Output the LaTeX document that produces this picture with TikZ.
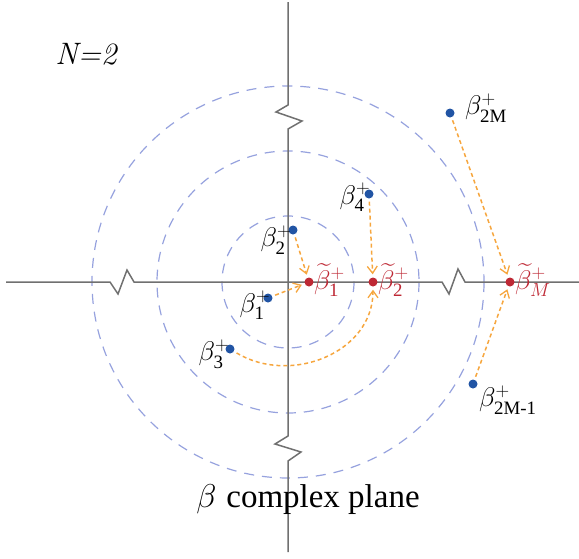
\RequirePackage{fix-cm}
\documentclass[tikz,border=0pt]{standalone}
\usepackage{amsmath}
\usepackage{fontspec}
\newfontfamily\timesf{Liberation Serif}
\usetikzlibrary{arrows.meta}
\definecolor{axisgray}{RGB}{112,112,112}
\definecolor{ringblue}{RGB}{150,162,222}
\definecolor{dotblue}{RGB}{33,84,164}
\definecolor{dotred}{RGB}{190,40,52}
\definecolor{arroworange}{RGB}{246,166,62}
\newcommand{\tsub}[1]{\text{\timesf #1}}
\tikzset{
  axisline/.style={draw=axisgray, line width=1.5pt, line join=miter},
  ring/.style={draw=ringblue, line width=1.2pt, dash pattern=on 10pt off 8pt},
  bdot/.style={circle, fill=dotblue, inner sep=0pt, minimum size=9pt},
  rdot/.style={circle, fill=dotred, inner sep=0pt, minimum size=9pt},
  moveto/.style={draw=arroworange, line width=1.5pt, dash pattern=on 4pt off 3pt,
    -{Straight Barb[length=7pt,width=10pt,line width=1.3pt]}, shorten >=3pt, shorten <=3pt},
  blab/.style={font=\fontsize{27}{29}\selectfont, inner sep=0pt},
  rlab/.style={font=\fontsize{27}{29}\selectfont, inner sep=0pt, text=dotred},
}
\begin{document}
\begin{tikzpicture}[x=1pt,y=-1pt]
\useasboundingbox (0,0) rectangle (579,558);
% rings
\coordinate (O) at (288,282);
\draw[ring] (O) circle[radius=66];
\draw[ring] (O) circle[radius=131];
\draw[ring] (O) circle[radius=196];
% axes with breaks
\coordinate (hl) at (6,282);
\coordinate (hr) at (579,282);
\coordinate (vt) at (288,2);
\coordinate (vb) at (288,552);
\draw[axisline] (hl) -- (110,282) -- (118,294) -- (127,270) -- (134,282)
  -- (442,282) -- (449,294) -- (458,269) -- (465,282) -- (hr);
\draw[axisline] (vt) -- (288,105) -- (276,112) -- (302,121) -- (288,129)
  -- (288,436) -- (275,444) -- (301,452) -- (288,461) -- (vb);
% points
\node[bdot] (b1) at (268,298) {};
\node[bdot] (b2) at (293,230) {};
\node[bdot] (b3) at (230,349) {};
\node[bdot] (b4) at (369,194) {};
\node[bdot] (b2M) at (450,113) {};
\node[bdot] (b2M1) at (473,384) {};
\node[rdot] (t1) at (309,282) {};
\node[rdot] (t2) at (373,282) {};
\node[rdot] (tM) at (510,282) {};
% labels
\node[blab] (lb1) at (255,305) {$\beta^{+}_{\tsub{1}}$};
\node[blab] (lb2) at (276,240) {$\beta^{+}_{\tsub{2}}$};
\node[blab] (lb3) at (214,354) {$\beta^{+}_{\tsub{3}}$};
\node[blab] (lb4) at (355,197) {$\beta^{+}_{\tsub{4}}$};
\node[blab, anchor=west] (lb2M) at (465,108) {$\beta^{+}_{\tsub{2M}}$};
\node[blab, anchor=west] (lb2M1) at (479,400) {$\beta^{+}_{\tsub{2M-1}}$};
\node[rlab, anchor=west] (lt1) at (314,280) {$\widetilde{\beta}^{+}_{\tsub{1}}$};
\node[rlab, anchor=west] (lt2) at (378,280) {$\widetilde{\beta}^{+}_{\tsub{2}}$};
\node[rlab, anchor=west] (ltM) at (515,280) {$\widetilde{\beta}^{+}_{M}$};
% arrows
\draw[moveto] (b2) -- (t1);
\draw[moveto] (b1) -- (t1);
\draw[moveto] (b4) -- (t2);
\draw[moveto] (b3) to[out=-31,in=-90,looseness=1.1] (t2);
\draw[moveto] (b2M) -- (tM);
\draw[moveto] (b2M1) -- (tM);
% titles
\node[inner sep=0pt, font=\fontsize{31}{34}\selectfont\itshape] (ttl) at (86,54) {N=2};
\node[inner sep=0pt, anchor=base, font=\fontsize{33}{36}\selectfont] (cap) at (308,507) {$\beta$ {\timesf complex plane}};
\end{tikzpicture}
\end{document}
